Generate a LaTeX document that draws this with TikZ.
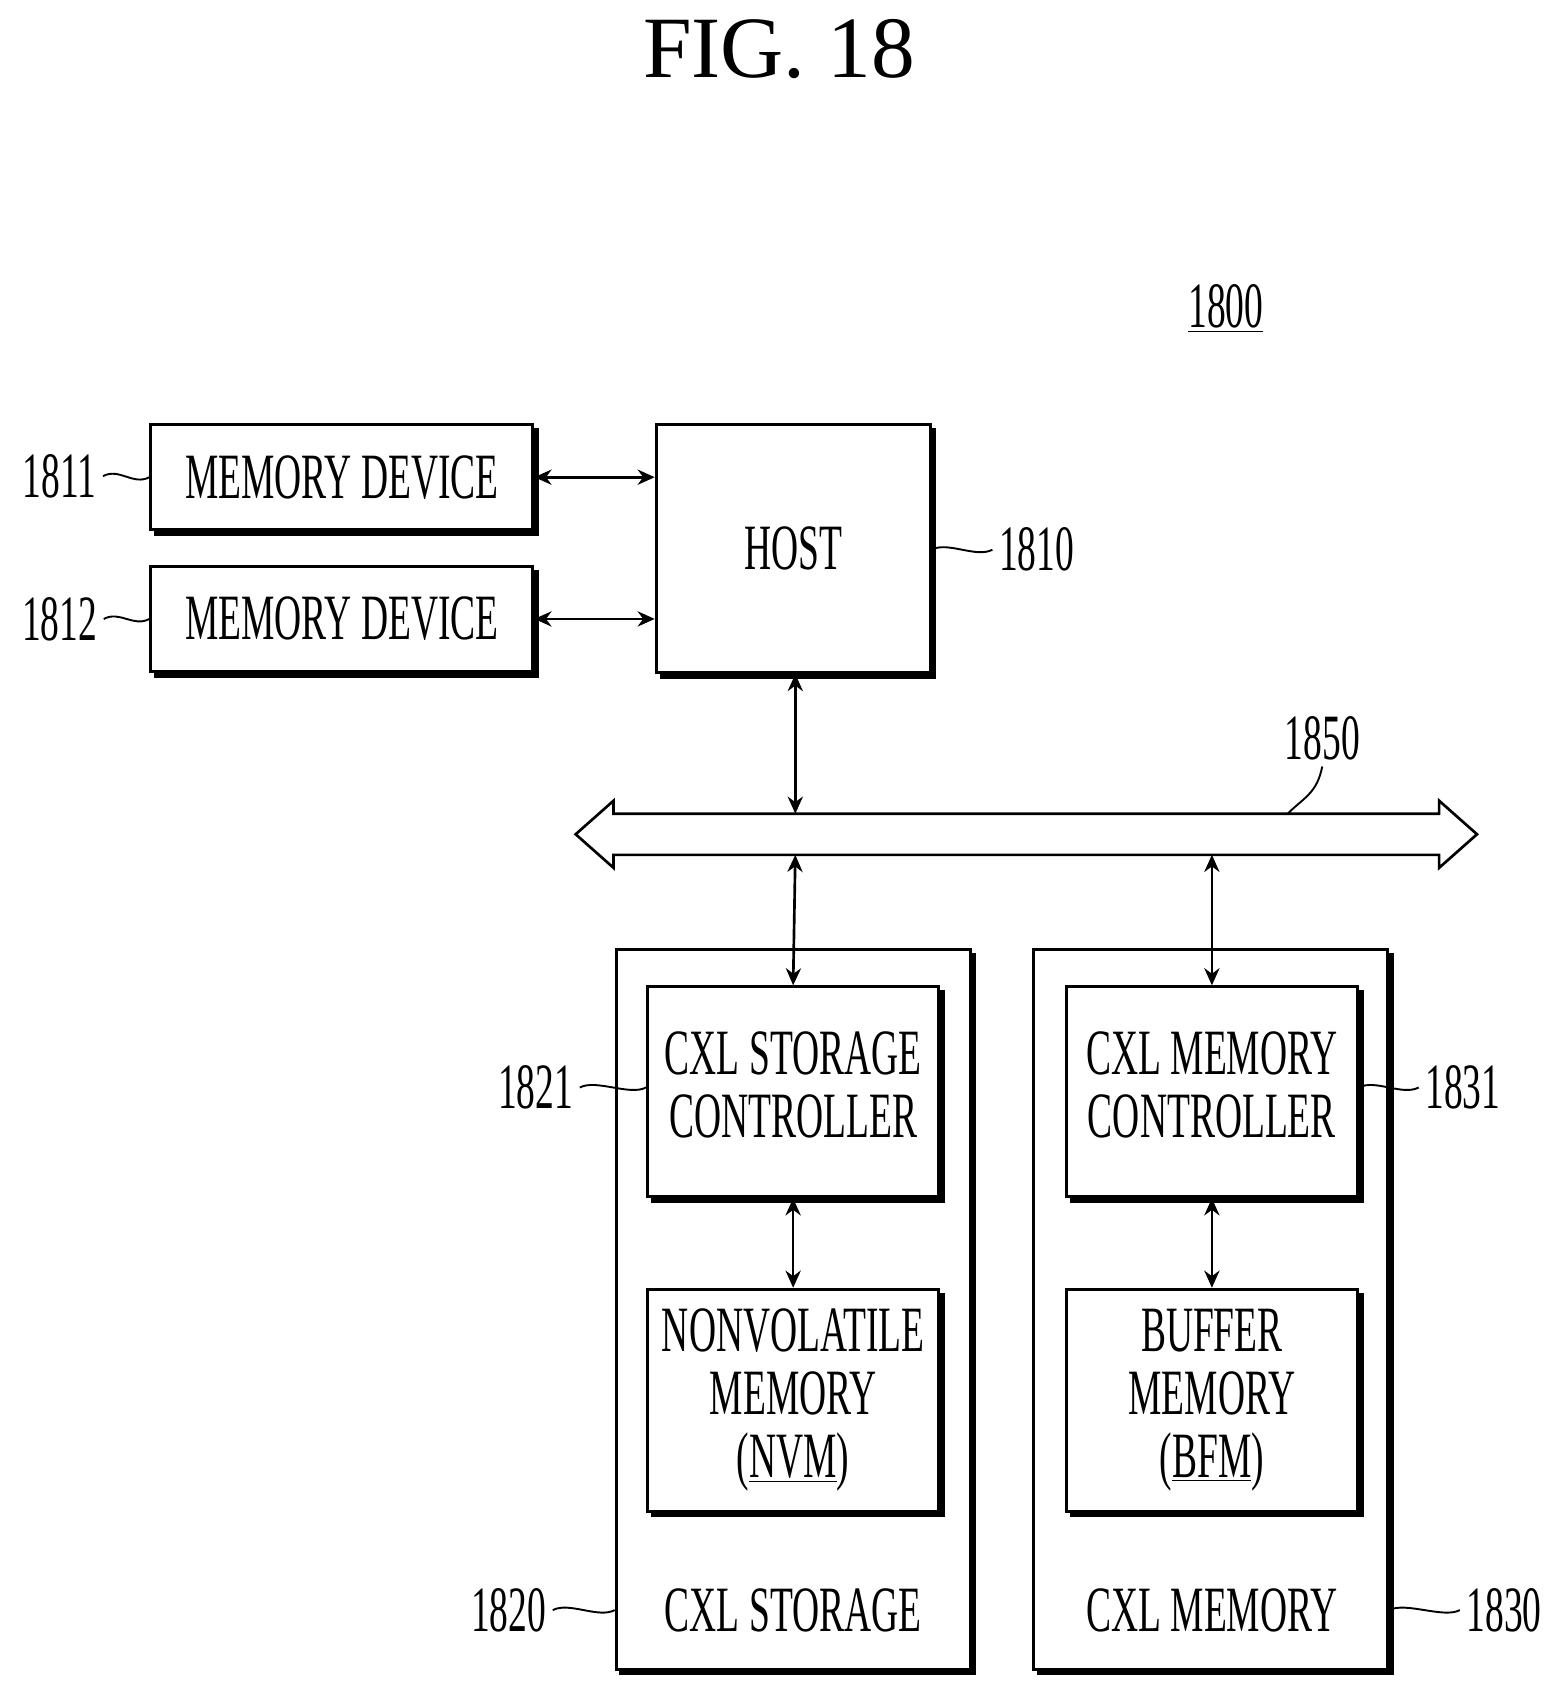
\documentclass[tikz,border=0pt]{standalone}
\usepackage{fontspec}
\setmainfont{Liberation Serif}
\usepackage{graphicx}
\usetikzlibrary{arrows.meta,shadows,decorations.pathmorphing}
\newcommand{\cnd}[1]{\scalebox{0.58}[1]{#1}}
\tikzset{
  blk/.style={draw, line width=1.6pt, fill=white, align=center, font=\fontsize{34}{38}\selectfont,
    copy shadow={shadow xshift=2.5pt, shadow yshift=-2.5pt, fill=black, draw=black}},
  outer/.style={draw, line width=1.6pt, fill=white,
    copy shadow={shadow xshift=2.5pt, shadow yshift=-2.5pt, fill=black, draw=black}},
  lnk/.style={{Stealth[length=9pt,width=8pt]}-{Stealth[length=9pt,width=8pt]}, line width=1.4pt},
  lbl/.style={font=\fontsize{34}{38}\selectfont},
  squig/.style={line width=1pt}
}
\begin{document}
\begin{tikzpicture}[x=0.02cm,y=-0.02cm]
  \useasboundingbox (0,0) rectangle (1440,1560);
  \node[font=\fontsize{46}{50}\selectfont] (fig) at (720,45) {FIG. 18};
  \node[lbl] (sys) at (1133,285) {\cnd{\underline{1800}}};

  % Host side
  \node[blk, minimum width=353*0.02cm, minimum height=97*0.02cm] (md1) at (316,441) {\cnd{MEMORY DEVICE}};
  \node[blk, minimum width=353*0.02cm, minimum height=97*0.02cm] (md2) at (316,572) {\cnd{MEMORY DEVICE}};
  \node[blk, minimum width=253*0.02cm, minimum height=229*0.02cm] (host) at (733,507) {\cnd{HOST}};
  \draw[lnk] (md1.east) -- (host.west |- md1.east);
  \draw[lnk] (md2.east) -- (host.west |- md2.east);

  % Bus
  \draw[line width=1.4pt, fill=white] (532,771) -- (567,740) -- (567,752) -- (1330,752) -- (1330,740)
    -- (1365,771) -- (1330,802) -- (1330,790) -- (567,790) -- (567,802) -- cycle;
  \coordinate (bustop) at (735,752);
  \coordinate (busbotl) at (735,790);
  \coordinate (busbotr) at (1120,790);
  \draw[lnk] (host.south -| bustop) -- (bustop);

  % CXL storage
  \node[outer, minimum width=327*0.02cm, minimum height=665*0.02cm] (stor) at (733,1210) {};
  \node[blk, minimum width=269*0.02cm, minimum height=194*0.02cm] (sctl) at (733,1009)
    {\cnd{\begin{tabular}{c}CXL STORAGE\\[-5pt]CONTROLLER\end{tabular}}};
  \node[blk, minimum width=269*0.02cm, minimum height=205*0.02cm] (nvm) at (733,1294)
    {\cnd{\begin{tabular}{c}NONVOLATILE\\[-5pt]MEMORY\\[-5pt](\underline{NVM})\end{tabular}}};
  \node[lbl] (stortxt) at (733,1488) {\cnd{CXL STORAGE}};
  \draw[lnk] (busbotl) -- (sctl.north);
  \draw[lnk] (sctl.south) -- (nvm.north);

  % CXL memory
  \node[outer, minimum width=327*0.02cm, minimum height=665*0.02cm] (mem) at (1119,1210) {};
  \node[blk, minimum width=269*0.02cm, minimum height=194*0.02cm] (mctl) at (1120,1009)
    {\cnd{\begin{tabular}{c}CXL MEMORY\\[-5pt]CONTROLLER\end{tabular}}};
  \node[blk, minimum width=269*0.02cm, minimum height=205*0.02cm] (bfm) at (1120,1294)
    {\cnd{\begin{tabular}{c}BUFFER\\[-5pt]MEMORY\\[-5pt](\underline{BFM})\end{tabular}}};
  \node[lbl] (memtxt) at (1120,1488) {\cnd{CXL MEMORY}};
  \draw[lnk] (busbotr) -- (mctl.north);
  \draw[lnk] (mctl.south) -- (bfm.north);

  % Reference numerals
  \node[lbl] (n1811) at (55,440) {\cnd{1811}};
  \node[lbl] (n1812) at (55,572) {\cnd{1812}};
  \node[lbl] (n1810) at (958,508) {\cnd{1810}};
  \node[lbl] (n1850) at (1222,682) {\cnd{1850}};
  \node[lbl] (n1821) at (495,1005) {\cnd{1821}};
  \node[lbl] (n1831) at (1352,1005) {\cnd{1831}};
  \node[lbl] (n1820) at (470,1488) {\cnd{1820}};
  \node[lbl] (n1830) at (1390,1488) {\cnd{1830}};
  \draw[squig] (n1811.east) .. controls +(15,-8) and +(-15,8) .. (md1.west);
  \draw[squig] (n1812.east) .. controls +(15,-8) and +(-15,8) .. (md2.west);
  \draw[squig] (host.east |- n1810.west) .. controls +(15,-8) and +(-15,8) .. (n1810.west);
  \draw[squig] (n1821.east) .. controls +(15,-8) and +(-15,8) .. (sctl.west |- n1821.east);
  \draw[squig] (mctl.east |- n1831.west) .. controls +(15,-8) and +(-15,8) .. (n1831.west);
  \draw[squig] (n1820.east) .. controls +(15,-8) and +(-15,8) .. (stor.west |- n1820.east);
  \draw[squig] (mem.east |- n1830.west) .. controls +(15,-8) and +(-15,8) .. (n1830.west);
  \draw[squig] (n1850.south) .. controls +(-5,25) and +(15,-15) .. (1190,752);
\end{tikzpicture}
\end{document}
